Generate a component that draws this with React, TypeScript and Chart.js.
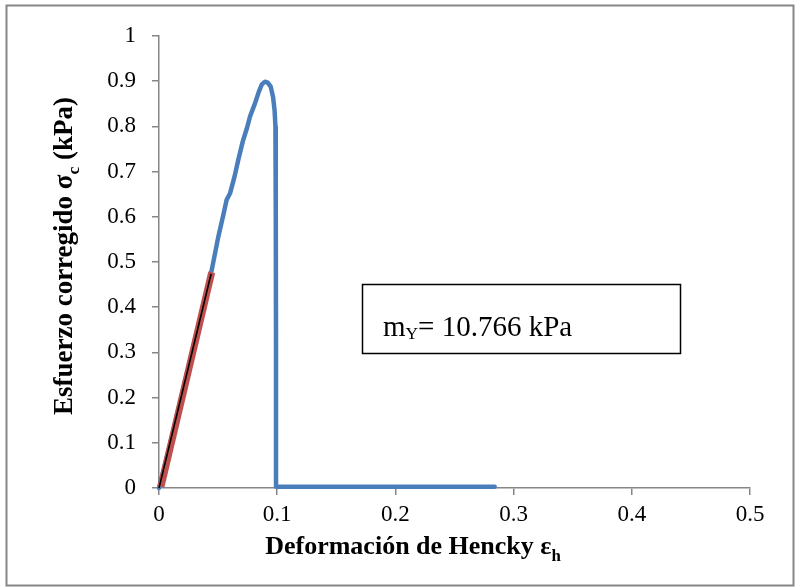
import { useEffect, useRef } from "react";
import { Chart, registerables } from "chart.js";

Chart.register(...registerables);

// Compression test: Hencky strain vs corrected stress (kPa)
const strainCurve = [
  0, 0.011, 0.022, 0.033, 0.0446, 0.0502, 0.0545, 0.0572, 0.0601, 0.064, 0.0671, 0.071,
  0.0745, 0.077, 0.0812, 0.0845, 0.087, 0.0897, 0.092, 0.0945, 0.0965, 0.0978, 0.0985,
  0.0988, 0.099, 0.099, 0.16, 0.23, 0.284,
];
const stressCurve = [
  0, 0.115, 0.235, 0.355, 0.482, 0.556, 0.605, 0.637, 0.652, 0.69, 0.726, 0.768,
  0.797, 0.822, 0.851, 0.877, 0.893, 0.899, 0.897, 0.888, 0.865, 0.835, 0.8,
  0.6, 0.3, 0.003, 0.003, 0.003, 0.003,
];

// Linear region used for the modulus
const linearStrain = [0.0017, 0.0446];
const linearStress = [0.003, 0.477];

// Fitted trend line
const trendStrain = [0, 0.0441];
const trendStress = [0, 0.474];

const xTickValues = [0, 0.1, 0.2, 0.3, 0.4, 0.5];
const yTickValues = [0, 0.1, 0.2, 0.3, 0.4, 0.5, 0.6, 0.7, 0.8, 0.9, 1];

const modulusValue = "10.766 kPa";

const SERIF = "'Liberation Serif', 'Times New Roman', serif";
const AXIS_GRAY = "#868686";

const toPoints = (xs: number[], ys: number[]) => xs.map((x, i) => ({ x, y: ys[i] }));

const fmt = (v: number) => String(Number(v.toFixed(1)));

type Run = { text: string; sub?: boolean };

// Draws text pieces with optional subscripts, starting at x
function drawRuns(
  ctx: CanvasRenderingContext2D,
  runs: Run[],
  x: number,
  y: number,
  size: number,
  weight: string,
  subScale = 0.65,
  subDrop = 0.3
) {
  let cx = x;
  for (const r of runs) {
    const s = r.sub ? size * subScale : size;
    ctx.font = `${weight} ${s}px ${SERIF}`;
    ctx.fillText(r.text, cx, r.sub ? y + size * subDrop : y);
    cx += ctx.measureText(r.text).width;
  }
  return cx - x;
}

function measureRuns(ctx: CanvasRenderingContext2D, runs: Run[], size: number, weight: string, subScale = 0.65) {
  let w = 0;
  for (const r of runs) {
    const s = r.sub ? size * subScale : size;
    ctx.font = `${weight} ${s}px ${SERIF}`;
    w += ctx.measureText(r.text).width;
  }
  return w;
}

const decorPlugin = {
  id: "decor",
  beforeDraw(chart: any) {
    const ctx = chart.ctx as CanvasRenderingContext2D;
    ctx.save();
    ctx.fillStyle = "#ffffff";
    ctx.fillRect(0, 0, chart.width, chart.height);
    ctx.strokeStyle = AXIS_GRAY;
    ctx.lineWidth = 2;
    ctx.strokeRect(6.5, 5.5, 787, 580);
    ctx.restore();
  },
  afterDraw(chart: any) {
    const ctx = chart.ctx as CanvasRenderingContext2D;
    const area = chart.chartArea;
    ctx.save();
    ctx.fillStyle = "#000";
    ctx.textBaseline = "alphabetic";
    ctx.textAlign = "left";

    // x axis title
    const xRuns: Run[] = [{ text: "Deformación de Hencky ε" }, { text: "h", sub: true }];
    const xw = measureRuns(ctx, xRuns, 26, "bold");
    drawRuns(ctx, xRuns, 413 - xw / 2, 554, 26, "bold", 0.65, 0.25);

    // y axis title (rotated)
    const yRuns: Run[] = [
      { text: "Esfuerzo corregido σ" },
      { text: "c", sub: true },
      { text: " (kPa)" },
    ];
    const yw = measureRuns(ctx, yRuns, 27, "bold");
    ctx.save();
    ctx.translate(72, 256);
    ctx.rotate(-Math.PI / 2);
    drawRuns(ctx, yRuns, -yw / 2, 0, 27, "bold", 0.65, 0.25);
    ctx.restore();

    // modulus annotation box
    const bx = area.left + 203;
    const by = area.top + 248;
    ctx.fillStyle = "#fff";
    ctx.fillRect(bx, by, 318, 69);
    ctx.strokeStyle = "#000";
    ctx.lineWidth = 1.5;
    ctx.strokeRect(bx + 0.5, by + 0.5, 318, 69);
    ctx.fillStyle = "#000";
    drawRuns(
      ctx,
      [{ text: "m" }, { text: "Y", sub: true }, { text: "= " + modulusValue }],
      bx + 21,
      by + 52,
      29,
      "normal",
      0.6,
      0.1
    );
    ctx.restore();
  },
};

export default function App() {
  const canvasRef = useRef<HTMLCanvasElement | null>(null);

  useEffect(() => {
    const canvas = canvasRef.current;
    if (!canvas) return;
    const tickFont = { family: SERIF, size: 23 };
    const chart = new Chart(canvas, {
      type: "scatter",
      data: {
        datasets: [
          {
            label: "trend",
            data: toPoints(trendStrain, trendStress),
            showLine: true,
            borderColor: "#000000",
            borderWidth: 1.6,
            pointRadius: 0,
            clip: false,
            order: 0,
          },
          {
            label: "linear",
            data: toPoints(linearStrain, linearStress),
            showLine: true,
            borderColor: "#c0504d",
            borderWidth: 7,
            pointRadius: 0,
            clip: false,
            order: 1,
          },
          {
            label: "curve",
            data: toPoints(strainCurve, stressCurve),
            showLine: true,
            borderColor: "#4a7ebb",
            borderWidth: 4.5,
            borderJoinStyle: "round",
            borderCapStyle: "round",
            pointRadius: 0,
            clip: false,
            order: 2,
          },
        ],
      },
      options: {
        animation: false,
        responsive: false,
        devicePixelRatio: 1,
        layout: { padding: { left: 0, top: 36, right: 46, bottom: 0 } },
        plugins: {
          legend: { display: false },
          tooltip: { enabled: false },
        },
        scales: {
          x: {
            type: "linear",
            min: 0,
            max: 0.5,
            afterFit: (s: any) => {
              s.height = 99;
            },
            afterBuildTicks: (s: any) => {
              s.ticks = xTickValues.map((v) => ({ value: v }));
            },
            ticks: {
              font: tickFont,
              color: "#000",
              padding: 6,
              maxRotation: 0,
              callback: (v: any) => fmt(Number(v)),
            },
            grid: {
              drawOnChartArea: false,
              drawTicks: true,
              tickLength: 7,
              color: AXIS_GRAY,
              lineWidth: 1.5,
            },
            border: { color: AXIS_GRAY, width: 1.5 },
          },
          y: {
            type: "linear",
            min: 0,
            max: 1,
            afterFit: (s: any) => {
              s.width = 159;
            },
            afterBuildTicks: (s: any) => {
              s.ticks = yTickValues.map((v) => ({ value: v }));
            },
            ticks: {
              font: tickFont,
              color: "#000",
              padding: 16,
              callback: (v: any) => fmt(Number(v)),
            },
            grid: {
              drawOnChartArea: false,
              drawTicks: true,
              tickLength: 7,
              color: AXIS_GRAY,
              lineWidth: 1.5,
            },
            border: { color: AXIS_GRAY, width: 1.5 },
          },
        },
      },
      plugins: [decorPlugin],
    } as any);
    return () => chart.destroy();
  }, []);

  return (
    <div style={{ position: "absolute", left: 0, top: 0, width: 796, height: 587, background: "#fff" }}>
      <canvas ref={canvasRef} width={796} height={587} style={{ display: "block", width: 796, height: 587 }} />
    </div>
  );
}
